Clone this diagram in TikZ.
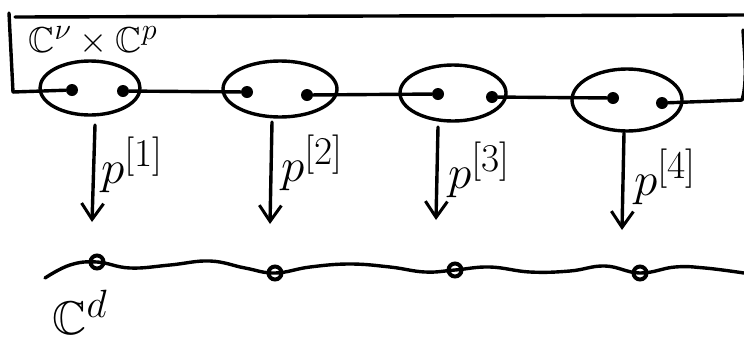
\documentclass[tikz,border=0pt]{standalone}
\usepackage{graphicx}
\usepackage{amssymb}
\usetikzlibrary{shapes.geometric,arrows.meta}
\newcommand{\bigtxt}[2]{\scalebox{#1}{\Huge #2}}
\tikzset{
  pen/.style={line width=3.4pt, line cap=round, line join=round},
  egg/.style={pen, draw, ellipse, inner sep=0pt},
  pt/.style={circle, fill=black, inner sep=0pt, minimum size=12pt},
  knot/.style={circle, draw, line width=4pt, inner sep=0pt, minimum size=13pt},
  proj/.style={pen, -{Straight Barb[length=16pt,width=22pt,line width=3pt]}},
  lab/.style={inner sep=0pt}
}
\begin{document}
\begin{tikzpicture}[x=1pt,y=-1pt]
\useasboundingbox (0,0) rectangle (744,349);
% band
\coordinate (tl) at (9,13);
\coordinate (bl) at (13,92);
\coordinate (tr) at (744,15);
\coordinate (br) at (742,100);
\draw[pen] (bl) -- (tl);
\draw[pen] (15,17) -- (tr);
\draw[pen] (br) .. controls (748,80) and (744,50) .. (743,30);
% ellipses
\node[egg, minimum width=100pt, minimum height=54pt] (e1) at (90,88) {};
\node[egg, minimum width=114pt, minimum height=56pt] (e2) at (280,89) {};
\node[egg, minimum width=106pt, minimum height=56pt] (e3) at (453,93) {};
\node[egg, minimum width=110pt, minimum height=62pt] (e4) at (627,100) {};
% points
\node[pt] (d1a) at (72,90) {};
\node[pt] (d1b) at (123,91) {};
\node[pt] (d2a) at (247,92) {};
\node[pt] (d2b) at (307,95) {};
\node[pt] (d3a) at (438,94) {};
\node[pt] (d3b) at (492,97) {};
\node[pt] (d4a) at (613,98) {};
\node[pt] (d4b) at (662,103) {};
\draw[pen] (bl) -- (d1a);
\draw[pen] (d1b) -- (d2a);
\draw[pen] (d2b) -- (d3a);
\draw[pen] (d3b) -- (d4a);
\draw[pen] (d4b) -- (br);
% label of the band
\node[lab] (tc) at (93,41) {\bigtxt{1.45}{$\mathbb{C}^{\nu}\times\mathbb{C}^{p}$}};
% wavy line
\draw[pen] plot[smooth, tension=0.7] coordinates {(45,278) (70,265) (97,262) (130,268) (170,265) (210,261) (245,268) (275,273) (310,267) (350,264) (390,267) (425,272) (455,270) (490,267) (530,272) (570,271) (605,266) (640,273) (675,267) (705,268) (744,273)};
\node[knot] (k1) at (97,262) {};
\node[knot] (k2) at (275,273) {};
\node[knot] (k3) at (455,270) {};
\node[knot] (k4) at (640,273) {};
\node[lab] (cd) at (80,312) {\bigtxt{1.9}{$\mathbb{C}^{d}$}};
% projections
\coordinate (s1) at (95,125);  \coordinate (t1) at (92,222);
\coordinate (s2) at (272,122); \coordinate (t2) at (270,224);
\coordinate (s3) at (438,127); \coordinate (t3) at (436,220);
\coordinate (s4) at (624,133); \coordinate (t4) at (622,230);
\draw[proj] (s1) -- (t1);
\draw[proj] (s2) -- (t2);
\draw[proj] (s3) -- (t3);
\draw[proj] (s4) -- (t4);
\node[lab] (p1) at (132,165) {\bigtxt{1.9}{$p^{[1]}$}};
\node[lab] (p2) at (312,163) {\bigtxt{1.9}{$p^{[2]}$}};
\node[lab] (p3) at (479,170) {\bigtxt{1.9}{$p^{[3]}$}};
\node[lab] (p4) at (665,177) {\bigtxt{1.9}{$p^{[4]}$}};
\end{tikzpicture}
\end{document}
